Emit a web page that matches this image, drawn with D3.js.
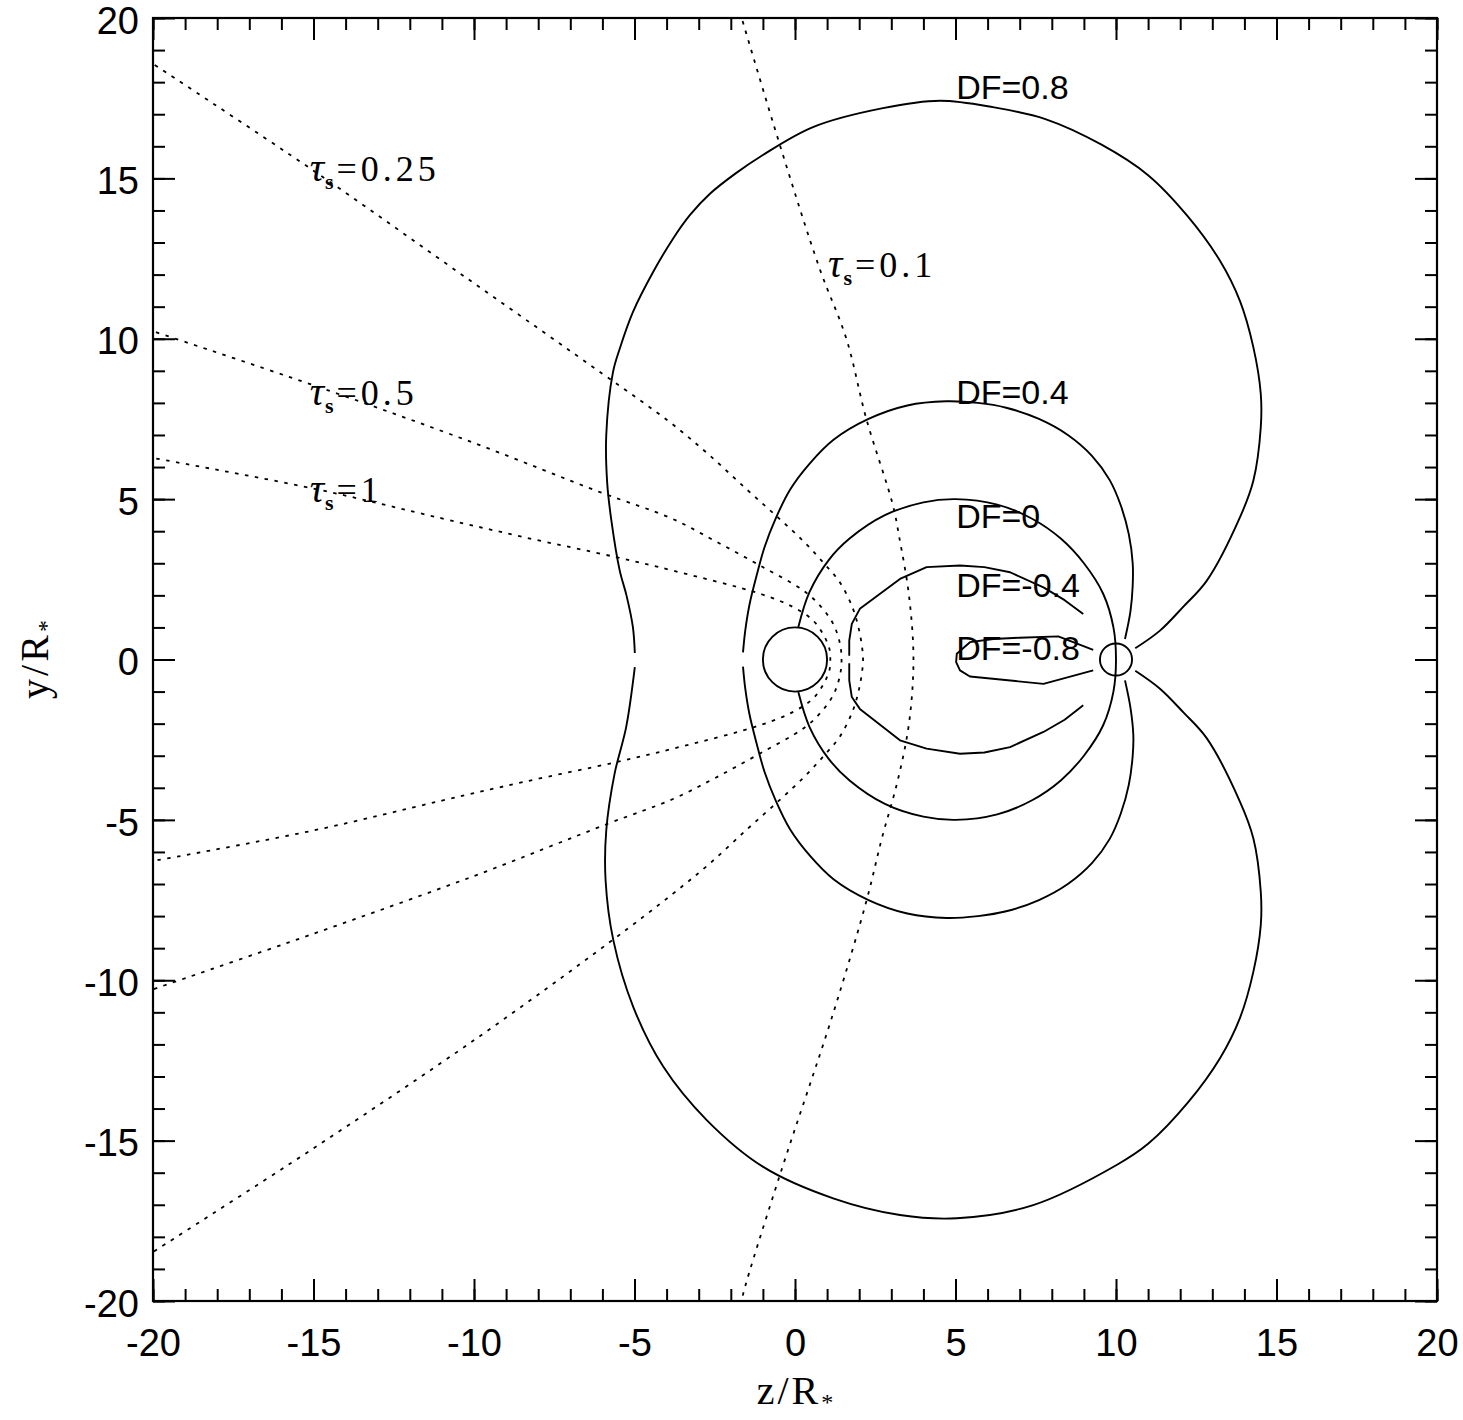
<!DOCTYPE html>
<html>
<head>
<meta charset="utf-8">
<script src="https://cdn.jsdelivr.net/npm/d3@7"></script>
<style>
  body { margin: 0; background: #fff; }
  svg { display: block; }
</style>
</head>
<body>
<script>
// ---- axis ticks -----------------------------------------------------------
const majorTicks = [-20, -15, -10, -5, 0, 5, 10, 15, 20];
const tickLabels = ["-20", "-15", "-10", "-5", "0", "5", "10", "15", "20"];
const minorTicks = d3.range(-20, 21, 1);

// ---- DF contours (z, y) in units of R* --------------------------------------
const df08Upper = [[-4.99, 0.2], [-5.05, 1.01], [-5.25, 2.0], [-5.46, 2.77], [-5.72, 4.33],
  [-5.85, 5.5], [-5.88, 6.99], [-5.67, 8.96], [-5.46, 9.69], [-5.05, 10.83], [-4.42, 12.08],
  [-3.8, 13.12], [-3.27, 13.86], [-2.65, 14.52], [-1.87, 15.14], [-1.0, 15.73], [0.56, 16.6],
  [2.74, 17.19], [4.51, 17.42], [6.17, 17.22], [7.8, 16.85], [9.55, 16.05], [11.0, 15.1],
  [12.25, 13.8], [13.24, 12.43], [13.86, 11.18], [14.28, 9.73], [14.51, 8.28], [14.51, 7.24],
  [14.28, 5.58], [13.86, 4.43], [12.83, 2.46], [12.1, 1.65], [11.37, 0.9], [10.6, 0.35]];
const df08Lower = [[-4.99, -0.24], [-5.26, -2.11], [-5.62, -3.56], [-5.88, -5.33], [-5.9, -6.9],
  [-5.66, -8.75], [-5.04, -10.83], [-4.1, -12.7], [-2.75, -14.36], [-0.99, -15.82], [1.19, -16.8],
  [3.27, -17.32], [5.04, -17.42], [7.42, -17.01], [10.02, -15.76], [11.0, -15.1], [12.25, -13.8],
  [13.24, -12.43], [13.86, -11.18], [14.28, -9.73], [14.51, -8.28], [14.51, -7.24], [14.28, -5.58],
  [13.86, -4.43], [12.83, -2.46], [12.1, -1.65], [11.37, -0.91], [10.6, -0.35]];

const df04Upper = [[-1.62, 0.22], [-1.55, 0.9], [-1.42, 1.7], [-1.2, 2.6], [-0.95, 3.5],
  [-0.6, 4.4], [-0.15, 5.3], [0.45, 6.1], [1.2, 6.85], [2.29, 7.5], [3.5, 7.92], [4.71, 8.05],
  [5.7, 8.0], [6.58, 7.85], [7.6, 7.5], [8.5, 7.0], [9.25, 6.35], [9.8, 5.6], [10.15, 4.8],
  [10.4, 3.9], [10.52, 3.0], [10.52, 2.3], [10.45, 1.5], [10.28, 0.64]];
const df04Lower = [[-1.62, -0.22], [-1.55, -0.9], [-1.42, -1.7], [-1.2, -2.6], [-0.95, -3.5],
  [-0.6, -4.4], [-0.15, -5.3], [0.45, -6.1], [1.2, -6.85], [2.29, -7.5], [3.5, -7.92],
  [4.73, -8.06], [5.7, -8.0], [6.58, -7.85], [7.6, -7.5], [8.5, -7.0], [9.25, -6.35],
  [9.8, -5.6], [10.15, -4.8], [10.4, -3.9], [10.52, -3.0], [10.54, -2.36], [10.45, -1.5],
  [10.28, -0.65]];

const df00 = [[0.1, 1.0], [0.45, 2.1], [1.05, 3.1], [1.7, 3.77], [2.8, 4.5], [4.0, 4.9], [5.0, 5.0],
  [6.3, 4.83], [7.4, 4.38], [8.28, 3.77], [9.0, 3.0], [9.6, 2.05], [9.92, 1.0], [10.0, 0],
  [9.92, -1.0], [9.6, -2.05], [9.0, -3.0], [8.28, -3.77], [7.4, -4.38], [6.3, -4.83], [5.0, -5.0],
  [4.0, -4.9], [2.8, -4.5], [1.7, -3.77], [1.05, -3.1], [0.45, -2.1], [0.1, -1.0]];

const dfm04Upper = [[8.98, 1.42], [8.4, 1.85], [7.74, 2.25], [6.7, 2.72], [5.9, 2.88], [5.14, 2.93],
  [4.1, 2.88], [3.27, 2.51], [2.02, 1.58], [1.77, 1.11], [1.69, 0.59], [1.69, 0.12]];
const dfm04Lower = [[1.69, -0.12], [1.69, -0.65], [1.77, -1.17], [2.02, -1.54], [3.27, -2.52],
  [4.1, -2.78], [5.14, -2.94], [5.9, -2.9], [6.7, -2.73], [7.74, -2.26], [8.4, -1.88], [8.98, -1.43]];

const dfm08 = [[9.29, 0.3], [8.2, 0.72], [7.0, 0.68], [6.18, 0.64], [5.45, 0.54], [5.04, 0.18],
  [5.02, -0.08], [5.14, -0.34], [5.45, -0.53], [7.74, -0.76], [9.29, -0.34]];

// ---- optical-depth surfaces tau_s ----------------------------------------------
const tau010 = [[-1.72, 20.2], [-0.48, 16.07], [0.77, 12.18], [1.6, 10.0], [2.22, 7.51], [3.05, 4.81],
  [3.25, 3.8], [3.55, 2.0], [3.69, 0], [3.55, -2.0], [3.2, -3.77], [2.7, -5.6], [2.23, -7.51],
  [1.19, -11.03], [-0.47, -16.07], [-1.61, -19.76], [-1.7, -20.2]];
const tau025 = [[-20.2, 18.7], [-15.0, 15.24], [-10.0, 11.73], [-6.0, 8.91], [-3.9, 7.4], [-2.7, 6.4],
  [-1.5, 5.3], [-0.5, 4.4], [0.3, 3.65], [0.9, 3.0], [1.4, 2.4], [1.8, 1.6], [2.0, 0.9], [2.1, 0.3],
  [2.12, 0], [2.1, -0.3], [2.0, -0.9], [1.8, -1.6], [1.4, -2.4], [0.9, -3.0], [0.3, -3.65],
  [-0.5, -4.4], [-1.5, -5.3], [-2.7, -6.4], [-3.8, -7.3], [-5.77, -8.81], [-9.93, -11.82],
  [-15.0, -15.24], [-20.2, -18.6]];
const tau050 = [[-20.2, 10.3], [-15.0, 8.55], [-10.0, 6.75], [-6.08, 5.22], [-3.85, 4.4], [-2.5, 3.7],
  [-1.09, 2.93], [0.26, 2.15], [0.78, 1.68], [1.19, 1.11], [1.4, 0.5], [1.45, 0], [1.4, -0.5],
  [1.19, -1.11], [0.78, -1.68], [0.26, -2.15], [-1.09, -2.93], [-2.5, -3.7], [-3.8, -4.35],
  [-5.83, -5.12], [-10.0, -6.75], [-15.0, -8.55], [-20.2, -10.35]];
const tau100 = [[-20.2, 6.32], [-15.0, 5.33], [-11.0, 4.4], [-8.47, 3.82], [-5.57, 3.19], [-3.8, 2.77],
  [-1.09, 2.05], [-0.05, 1.63], [0.57, 1.21], [0.93, 0.69], [1.08, 0.3], [1.1, 0], [1.08, -0.3],
  [0.93, -0.69], [0.57, -1.21], [-0.05, -1.63], [-1.09, -2.05], [-3.8, -2.78], [-5.57, -3.2],
  [-8.47, -3.82], [-11.0, -4.4], [-15.0, -5.33], [-20.2, -6.32]];

// ---- star and companion (centre z, y and radius in R*) ------------------------
const bodies = [[0, 0, 1.0], [10, 0, 0.5]];

// ---- annotations (anchor z, y in R*) --------------------------------------------
const dfLabelText = ["DF=0.8", "DF=0.4", "DF=0", "DF=-0.4", "DF=-0.8"];
const dfLabelAt = [[5.02, 17.48], [5.02, 7.98], [5.02, 4.1], [5.02, 1.94], [5.02, -0.03]];
const tauLabelText = ["0.25", "0.5", "1", "0.1"];
const tauLabelAt = [[-15.12, 14.92], [-15.12, 7.94], [-15.12, 4.92], [1.03, 11.93]];

// ---------------------------------------------------------------------------------
const W = 1463, H = 1420;
const x = d3.scaleLinear().domain([-20, 20]).range([153, 1437]);
const y = d3.scaleLinear().domain([-20, 20]).range([1301, 18]);

const svg = d3.select("body").append("svg")
  .attr("width", W).attr("height", H)
  .attr("viewBox", `0 0 ${W} ${H}`);

svg.append("defs").append("clipPath").attr("id", "plot")
  .append("rect")
  .attr("x", x(-20)).attr("y", y(20))
  .attr("width", x(20) - x(-20)).attr("height", y(-20) - y(20));

const plot = svg.append("g").attr("clip-path", "url(#plot)");

const smooth = d3.line().x(d => x(d[0])).y(d => y(d[1])).curve(d3.curveCatmullRom.alpha(0.5));
const straight = d3.line().x(d => x(d[0])).y(d => y(d[1]));

// optical-depth surfaces, dotted
[tau010, tau025, tau050, tau100].forEach(pts => {
  plot.append("path").attr("d", smooth(pts))
    .attr("fill", "none").attr("stroke", "#000")
    .attr("stroke-width", 1.8).attr("stroke-dasharray", "3.5,6.5");
});

// DF contours, solid
[df08Upper, df08Lower, df04Upper, df04Lower, df00].forEach(pts => {
  plot.append("path").attr("d", smooth(pts))
    .attr("fill", "none").attr("stroke", "#000").attr("stroke-width", 1.9);
});
[dfm04Upper, dfm04Lower, dfm08].forEach(pts => {
  plot.append("path").attr("d", straight(pts))
    .attr("fill", "none").attr("stroke", "#000").attr("stroke-width", 1.9)
    .attr("stroke-linejoin", "round");
});

// star and companion
plot.selectAll("circle.body").data(bodies).join("circle")
  .attr("class", "body")
  .attr("cx", d => x(d[0])).attr("cy", d => y(d[1]))
  .attr("r", d => x(d[2]) - x(0))
  .attr("fill", "none").attr("stroke", "#000").attr("stroke-width", 1.9);

// DF labels
svg.selectAll("text.df").data(dfLabelText).join("text")
  .attr("class", "df")
  .attr("x", (d, i) => x(dfLabelAt[i][0]))
  .attr("y", (d, i) => y(dfLabelAt[i][1]))
  .attr("font-family", "'Liberation Sans', Arial, sans-serif")
  .attr("font-size", 34)
  .text(d => d);

// tau_s labels
tauLabelText.forEach((t, i) => {
  const g = svg.append("text")
    .attr("x", x(tauLabelAt[i][0])).attr("y", y(tauLabelAt[i][1]))
    .attr("font-family", "'Liberation Serif', 'Times New Roman', serif")
    .attr("font-size", 36);
  g.append("tspan").attr("font-style", "italic").attr("font-size", 40).text("τ");
  g.append("tspan").attr("font-size", 22).attr("font-weight", "bold")
    .attr("dx", 1).attr("dy", 8).text("s");
  g.append("tspan").attr("dx", 3).attr("dy", -8)
    .attr("letter-spacing", 4).text("=" + t);
});

// ---- axes: ticks on all four sides, pointing inwards ----------------------------
const fmt = d => tickLabels[majorTicks.indexOf(d)];
function styleAxis(g) {
  g.select(".domain").remove();
  g.selectAll(".tick line").attr("stroke", "#000").attr("stroke-width", 2);
  g.selectAll(".tick text").attr("fill", "#000");
  g.attr("font-family", "'Liberation Sans', Arial, sans-serif").attr("font-size", 38);
}

svg.append("g").attr("transform", `translate(0,${y(-20)})`)
  .call(d3.axisBottom(x).tickValues(majorTicks).tickSize(-22).tickPadding(28).tickFormat(fmt))
  .call(styleAxis);
svg.append("g").attr("transform", `translate(0,${y(-20)})`)
  .call(d3.axisBottom(x).tickValues(minorTicks).tickSize(-12).tickFormat(""))
  .call(styleAxis);
svg.append("g").attr("transform", `translate(0,${y(20)})`)
  .call(d3.axisTop(x).tickValues(majorTicks).tickSize(-22).tickFormat(""))
  .call(styleAxis);
svg.append("g").attr("transform", `translate(0,${y(20)})`)
  .call(d3.axisTop(x).tickValues(minorTicks).tickSize(-12).tickFormat(""))
  .call(styleAxis);
svg.append("g").attr("transform", `translate(${x(-20)},0)`)
  .call(d3.axisLeft(y).tickValues(majorTicks).tickSize(-22).tickPadding(14).tickFormat(fmt))
  .call(styleAxis)
  .call(g => g.selectAll(".tick text").attr("dy", "0.4em"));
svg.append("g").attr("transform", `translate(${x(-20)},0)`)
  .call(d3.axisLeft(y).tickValues(minorTicks).tickSize(-12).tickFormat(""))
  .call(styleAxis);
svg.append("g").attr("transform", `translate(${x(20)},0)`)
  .call(d3.axisRight(y).tickValues(majorTicks).tickSize(-22).tickFormat(""))
  .call(styleAxis);
svg.append("g").attr("transform", `translate(${x(20)},0)`)
  .call(d3.axisRight(y).tickValues(minorTicks).tickSize(-12).tickFormat(""))
  .call(styleAxis);

// frame
svg.append("rect")
  .attr("x", x(-20)).attr("y", y(20))
  .attr("width", x(20) - x(-20)).attr("height", y(-20) - y(20))
  .attr("fill", "none").attr("stroke", "#000").attr("stroke-width", 2.2);

// axis titles
const zTitle = svg.append("text")
  .attr("x", x(0)).attr("y", 1404).attr("text-anchor", "middle")
  .attr("font-family", "'Liberation Serif', 'Times New Roman', serif")
  .attr("font-size", 40).attr("fill", "#000");
zTitle.append("tspan").attr("letter-spacing", 3).text("z/R");
zTitle.append("tspan").attr("font-size", 24).attr("dy", 6).text("*");

const yTitle = svg.append("text")
  .attr("transform", `translate(48,${y(0)}) rotate(-90)`).attr("text-anchor", "middle")
  .attr("font-family", "'Liberation Serif', 'Times New Roman', serif")
  .attr("font-size", 40).attr("fill", "#000");
yTitle.append("tspan").attr("letter-spacing", 3).text("y/R");
yTitle.append("tspan").attr("font-size", 24).attr("dy", 6).text("*");
</script>
</body>
</html>
